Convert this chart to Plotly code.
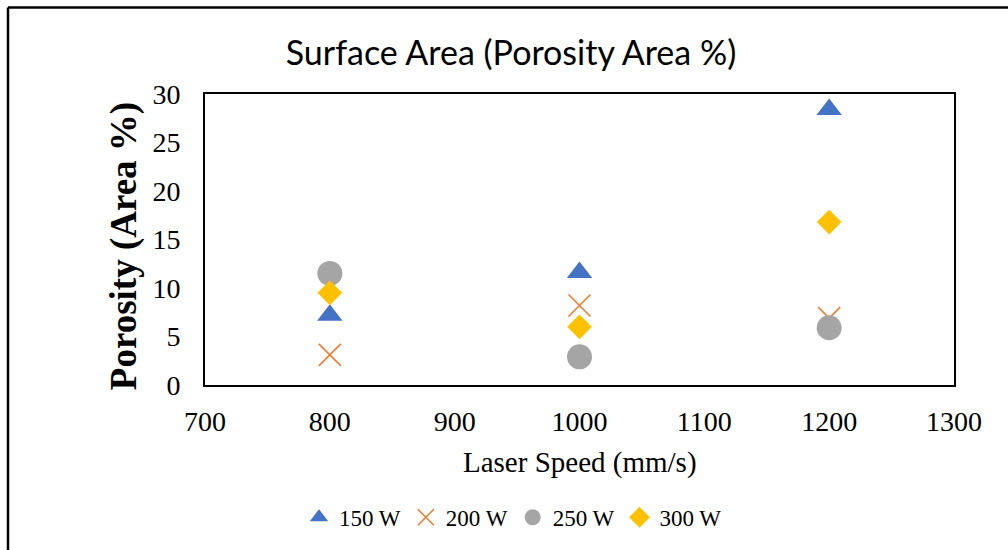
import plotly.graph_objects as go

speeds = [800, 1000, 1200]
p150 = [7.2, 11.6, 28.4]
p200 = [3.1, 8.2, 6.9]
p250 = [11.5, 2.9, 5.9]
p300 = [9.5, 6.0, 16.8]

series = [
    ("150 W", p150, "triangle-up", "#4472C4", 22),
    ("200 W", p200, "x-thin-open", "#ED7D31", 22),
    ("250 W", p250, "circle", "#A5A5A5", 25),
    ("300 W", p300, "diamond", "#FFC000", 19),
]

W, H = 1008, 550
L, R, T, B = 205, 954, 94, 386.5

def px(xp):
    return (xp - L) / (R - L)

def py(yp):
    return (B - yp) / (B - T)

fig = go.Figure()
for name, vals, sym, col, sz in series:
    if sym == "x-thin-open":
        marker = dict(symbol=sym, size=sz, color=col, line=dict(color=col, width=1.6))
    else:
        marker = dict(symbol=sym, size=sz, color=col, line=dict(width=0))
    fig.add_trace(go.Scatter(x=speeds, y=vals, mode="markers", name=name, marker=marker))

serif = "Liberation Serif, Times New Roman, serif"
fig.update_layout(
    width=W, height=H,
    margin=dict(l=L, r=W - R, t=T, b=H - B),
    paper_bgcolor="white", plot_bgcolor="white",
    title=dict(text="Surface Area (Porosity Area %)", x=px(511), xref="paper", xanchor="center",
               y=1 - 53 / H, yref="container", yanchor="middle",
               font=dict(family="Lato, sans-serif", size=34, color="black")),
    xaxis=dict(range=[700, 1300], dtick=100, tick0=700, showgrid=False, zeroline=False,
               showline=True, mirror=True, linecolor="black", linewidth=2, ticks="",
               ticklabelstandoff=10,
               tickfont=dict(family=serif, size=28, color="black")),
    yaxis=dict(range=[0, 30], dtick=5, showgrid=False, zeroline=False,
               showline=True, mirror=True, linecolor="black", linewidth=2, ticks="",
               ticklabelstandoff=17,
               tickfont=dict(family=serif, size=28, color="black")),
    legend=dict(orientation="h", x=px(513), xanchor="center", y=py(518), yanchor="middle",
                font=dict(family=serif, size=23, color="black"), itemwidth=30,
                tracegroupgap=0),
    showlegend=True,
)

fig.add_annotation(text="Laser Speed (mm/s)", xref="paper", yref="paper",
                   x=px(580), y=py(464), xanchor="center", yanchor="middle", showarrow=False,
                   font=dict(family=serif, size=29, color="black"))
fig.add_annotation(text="<b>Porosity (Area %)</b>", xref="paper", yref="paper",
                   x=px(124), y=py(247), xanchor="center", yanchor="middle", showarrow=False,
                   textangle=-90, font=dict(family=serif, size=37, color="black"))

# outer chart border (top and left edges visible)
fig.add_shape(type="line", xref="paper", yref="paper",
              x0=px(8), x1=px(W + 20), y0=py(7), y1=py(7),
              line=dict(color="black", width=2.5))
fig.add_shape(type="line", xref="paper", yref="paper",
              x0=px(8), x1=px(8), y0=py(7), y1=py(H + 20),
              line=dict(color="black", width=2.5))

fig.write_html("out.html")
